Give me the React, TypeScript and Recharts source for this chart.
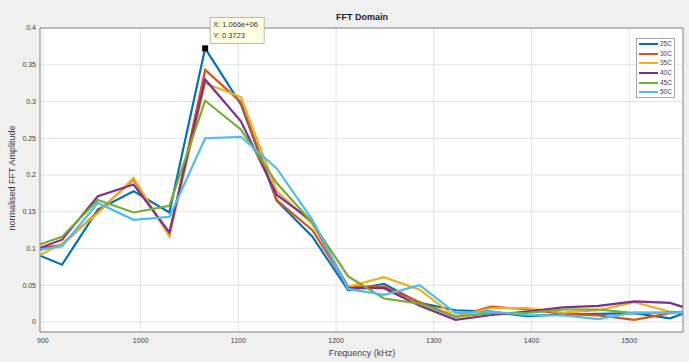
import { LineChart, Line, XAxis, YAxis, CartesianGrid, ReferenceDot } from 'recharts';

// frequency bins (kHz); first and last are just outside the visible range
const freqKHz = [
  883, 919.6, 956.2, 992.8, 1029.4, 1066, 1102.6, 1139.2, 1175.8, 1212.4,
  1249, 1285.6, 1322.2, 1358.8, 1395.4, 1432, 1468.6, 1505.2, 1541.8, 1578.4,
];

const amp25C = [0.098, 0.078, 0.153, 0.178, 0.149, 0.3723, 0.296, 0.165, 0.116, 0.043, 0.052, 0.026, 0.016, 0.014, 0.008, 0.0105, 0.011, 0.012, 0.005, 0.023];
const amp30C = [0.098, 0.105, 0.15, 0.194, 0.117, 0.343, 0.299, 0.166, 0.125, 0.048, 0.048, 0.027, 0.007, 0.021, 0.017, 0.011, 0.009, 0.003, 0.012, 0.015];
const amp35C = [0.081, 0.107, 0.148, 0.196, 0.117, 0.325, 0.306, 0.178, 0.133, 0.048, 0.061, 0.044, 0.007, 0.019, 0.019, 0.0127, 0.016, 0.027, 0.014, 0.01];
const amp40C = [0.094, 0.112, 0.171, 0.187, 0.122, 0.33, 0.273, 0.173, 0.137, 0.046, 0.046, 0.022, 0.003, 0.0095, 0.014, 0.02, 0.022, 0.028, 0.026, 0.0106];
const amp45C = [0.099, 0.116, 0.166, 0.149, 0.158, 0.301, 0.262, 0.189, 0.135, 0.062, 0.032, 0.025, 0.007, 0.012, 0.0125, 0.017, 0.017, 0.012, 0.013, 0.015];
const amp50C = [0.095, 0.103, 0.162, 0.139, 0.143, 0.25, 0.252, 0.209, 0.139, 0.045, 0.037, 0.05, 0.012, 0.014, 0.0095, 0.009, 0.004, 0.013, 0.012, 0.014];

const xTicks = [900, 1000, 1100, 1200, 1300, 1400, 1500];
const yTicks = [0, 0.05, 0.1, 0.15, 0.2, 0.25, 0.3, 0.35, 0.4];

const series = [
  { key: 'c25', name: '25C', color: '#0072BD', values: amp25C },
  { key: 'c30', name: '30C', color: '#D95319', values: amp30C },
  { key: 'c35', name: '35C', color: '#EDB120', values: amp35C },
  { key: 'c40', name: '40C', color: '#7E2F8E', values: amp40C },
  { key: 'c45', name: '45C', color: '#77AC30', values: amp45C },
  { key: 'c50', name: '50C', color: '#4DBEEE', values: amp50C },
];

const peakIdx = 5;

const rows = freqKHz.map((f, i) => {
  const r: any = { f };
  series.forEach(s => { r[s.key] = s.values[i]; });
  return r;
});

const font = '"Liberation Sans", Arial, sans-serif';
const axisColor = '#8a8a8a';
const textColor = '#404040';

// matlab style exponent: 1.066e+06
const fmtExp = (v: number) => v.toExponential(3).replace(/e([+-])(\d)$/, 'e$10$2');

const DataTip = (props: any) => {
  const { cx, cy } = props;
  if (cx == null || cy == null) return null;
  return (
    <g>
      <rect x={cx + 5} y={cy - 31} width={54} height={26} fill="#ffffe1" stroke="#a8a8a8" strokeWidth={0.8} />
      <text x={cx + 8} y={cy - 21} fontSize={7.5} fontFamily={font} fill="#333">
        {'X: ' + fmtExp(freqKHz[peakIdx] * 1000)}
      </text>
      <text x={cx + 8} y={cy - 10} fontSize={7.5} fontFamily={font} fill="#333">
        {'Y: ' + amp25C[peakIdx].toFixed(4)}
      </text>
      <rect x={cx - 3} y={cy - 3} width={6} height={6} fill="#000" />
    </g>
  );
};

export default function App() {
  return (
    <div style={{ position: 'absolute', left: 0, top: 0, width: 689, height: 362, background: '#f0f0f0', fontFamily: font }}>
      <div style={{ position: 'absolute', left: 262, top: 11, width: 200, textAlign: 'center', fontSize: 9, fontWeight: 'bold', color: '#222', lineHeight: '12px' }}>
        FFT Domain
      </div>
      <LineChart width={689} height={362} data={rows} margin={{ top: 28, right: 6, bottom: 0, left: 0 }}>
        <CartesianGrid stroke="#e4e4e4" fill="#ffffff" />
        <XAxis
          type="number"
          dataKey="f"
          domain={[897, 1555]}
          ticks={xTicks}
          allowDataOverflow
          height={30}
          tickLine={false}
          tickSize={4}
          tickMargin={2}
          axisLine={{ stroke: axisColor }}
          tick={{ fontSize: 7, fill: textColor, fontFamily: font }}
        />
        <YAxis
          type="number"
          domain={[-0.0136, 0.4]}
          ticks={yTicks}
          allowDataOverflow
          width={40}
          tickLine={false}
          tickSize={2}
          tickMargin={2}
          axisLine={{ stroke: axisColor }}
          tick={{ fontSize: 7, fill: textColor, fontFamily: font }}
        />
        {/* inward tick marks + top/right box lines */}
        <XAxis xAxisId="bIn" orientation="bottom" mirror type="number" domain={[897, 1555]} ticks={xTicks} allowDataOverflow tick={false} tickSize={3} axisLine={false} tickLine={{ stroke: axisColor }} />
        <XAxis xAxisId="top" orientation="top" mirror type="number" domain={[897, 1555]} ticks={xTicks} allowDataOverflow tick={false} tickSize={3} axisLine={{ stroke: axisColor }} tickLine={{ stroke: axisColor }} />
        <YAxis yAxisId="lIn" orientation="left" mirror type="number" domain={[-0.0136, 0.4]} ticks={yTicks} allowDataOverflow tick={false} tickSize={3} axisLine={false} tickLine={{ stroke: axisColor }} />
        <YAxis yAxisId="right" orientation="right" mirror type="number" domain={[-0.0136, 0.4]} ticks={yTicks} allowDataOverflow tick={false} tickSize={3} axisLine={{ stroke: axisColor }} tickLine={{ stroke: axisColor }} />
        {series.map(s => (
          <Line
            key={s.key}
            type="linear"
            dataKey={s.key}
            name={s.name}
            stroke={s.color}
            strokeWidth={2.2}
            dot={false}
            isAnimationActive={false}
          />
        ))}
        <ReferenceDot x={freqKHz[peakIdx]} y={amp25C[peakIdx]} r={3} shape={DataTip} />
      </LineChart>
      <div style={{ position: 'absolute', left: 262, top: 347, width: 200, textAlign: 'center', fontSize: 9, color: textColor, lineHeight: '12px' }}>
        Frequency (kHz)
      </div>
      <div style={{ position: 'absolute', left: -88, top: 172, width: 200, textAlign: 'center', fontSize: 9, color: textColor, lineHeight: '12px', transform: 'rotate(-90deg)' }}>
        normalised FFT Amplitude
      </div>
      <div style={{ position: 'absolute', left: 636, top: 38, width: 39, height: 60, boxSizing: 'border-box', border: '1px solid #a8a8a8', background: '#fff' }}>
        {series.map(s => (
          <div key={s.key} style={{ display: 'flex', alignItems: 'center', height: 9.7 }}>
            <div style={{ marginLeft: 2, width: 19, height: 2, background: s.color }} />
            <span style={{ marginLeft: 2, fontSize: 6.5, color: textColor, lineHeight: '8px' }}>{s.name}</span>
          </div>
        ))}
      </div>
    </div>
  );
}
